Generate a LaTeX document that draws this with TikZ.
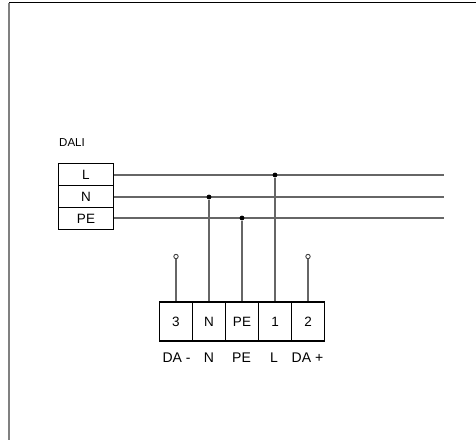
\documentclass[tikz,border=0pt]{standalone}
\usepackage{fontspec}
\setmainfont{Liberation Sans}
\tikzset{
    rowbox/.style={rectangle, draw, line width=1.2pt, minimum width=55pt, minimum height=22pt, inner sep=0pt, font=\fontsize{13.5pt}{15pt}\selectfont},
    termbox/.style={rectangle, draw, line width=1.2pt, minimum width=33pt, minimum height=39pt, inner sep=0pt, font=\fontsize{13.5pt}{15pt}\selectfont},
    wire/.style={draw=black!60, line width=1.4pt},
    joint/.style={circle, fill=black, inner sep=0pt, minimum size=4.8pt},
    endring/.style={circle, draw=black!75, fill=white, line width=0.9pt, inner sep=0pt, minimum size=4.4pt},
    caption/.style={inner sep=0pt, font=\fontsize{14pt}{16pt}\selectfont}
}
\begin{document}
\begin{tikzpicture}[x=1pt, y=-1pt]
    \useasboundingbox (0,0) rectangle (476,440);
    % frame
    \coordinate (frametl) at (9,2.5);
    \coordinate (frametr) at (476,2.5);
    \coordinate (framebl) at (9,440);
    \draw[black, line width=1.2pt] (frametl) -- (frametr);
    \draw[black!50, line width=2pt] (frametl) -- (framebl);
    % bus
    \node[caption, font=\fontsize{11.5pt}{13pt}\selectfont] (dali) at (72,142.5) {DALI};
    \node[rowbox] (rowL) at (86,174.5) {L};
    \node[rowbox] (rowN) at (86,196.5) {N};
    \node[rowbox] (rowPE) at (86,218.5) {PE};
    \coordinate (endL) at (443.5,175);
    \coordinate (endN) at (443.5,197);
    \coordinate (endPE) at (443.5,218);
    \draw[wire] (rowL.east |- endL) -- (endL);
    \draw[wire] (rowN.east |- endN) -- (endN);
    \draw[wire] (rowPE.east |- endPE) -- (endPE);
    % terminals
    \node[termbox] (term3) at (176,321.5) {3};
    \node[termbox] (termN) at (209,321.5) {N};
    \node[termbox] (termPE) at (242,321.5) {PE};
    \node[termbox] (term1) at (275,321.5) {1};
    \node[termbox] (term2) at (308,321.5) {2};
    % joints
    \node[joint] (jointN) at (209,197) {};
    \node[joint] (jointPE) at (242,218) {};
    \node[joint] (jointL) at (275,175) {};
    \draw[wire] (jointN) -- (termN);
    \draw[wire] (jointPE) -- (termPE);
    \draw[wire] (jointL) -- (term1);
    \node[endring] (ring3) at (176,256.5) {};
    \node[endring] (ring2) at (308,256.5) {};
    \draw[wire] (ring3) -- (term3);
    \draw[wire] (ring2) -- (term2);
    % labels
    \node[caption] (labDAm) at (176.5,358) {DA -};
    \node[caption] (labN) at (209,358) {N};
    \node[caption] (labPE) at (241.5,358) {PE};
    \node[caption] (labL) at (274,358) {L};
    \node[caption] (labDAp) at (307.5,358) {DA +};
\end{tikzpicture}
\end{document}
